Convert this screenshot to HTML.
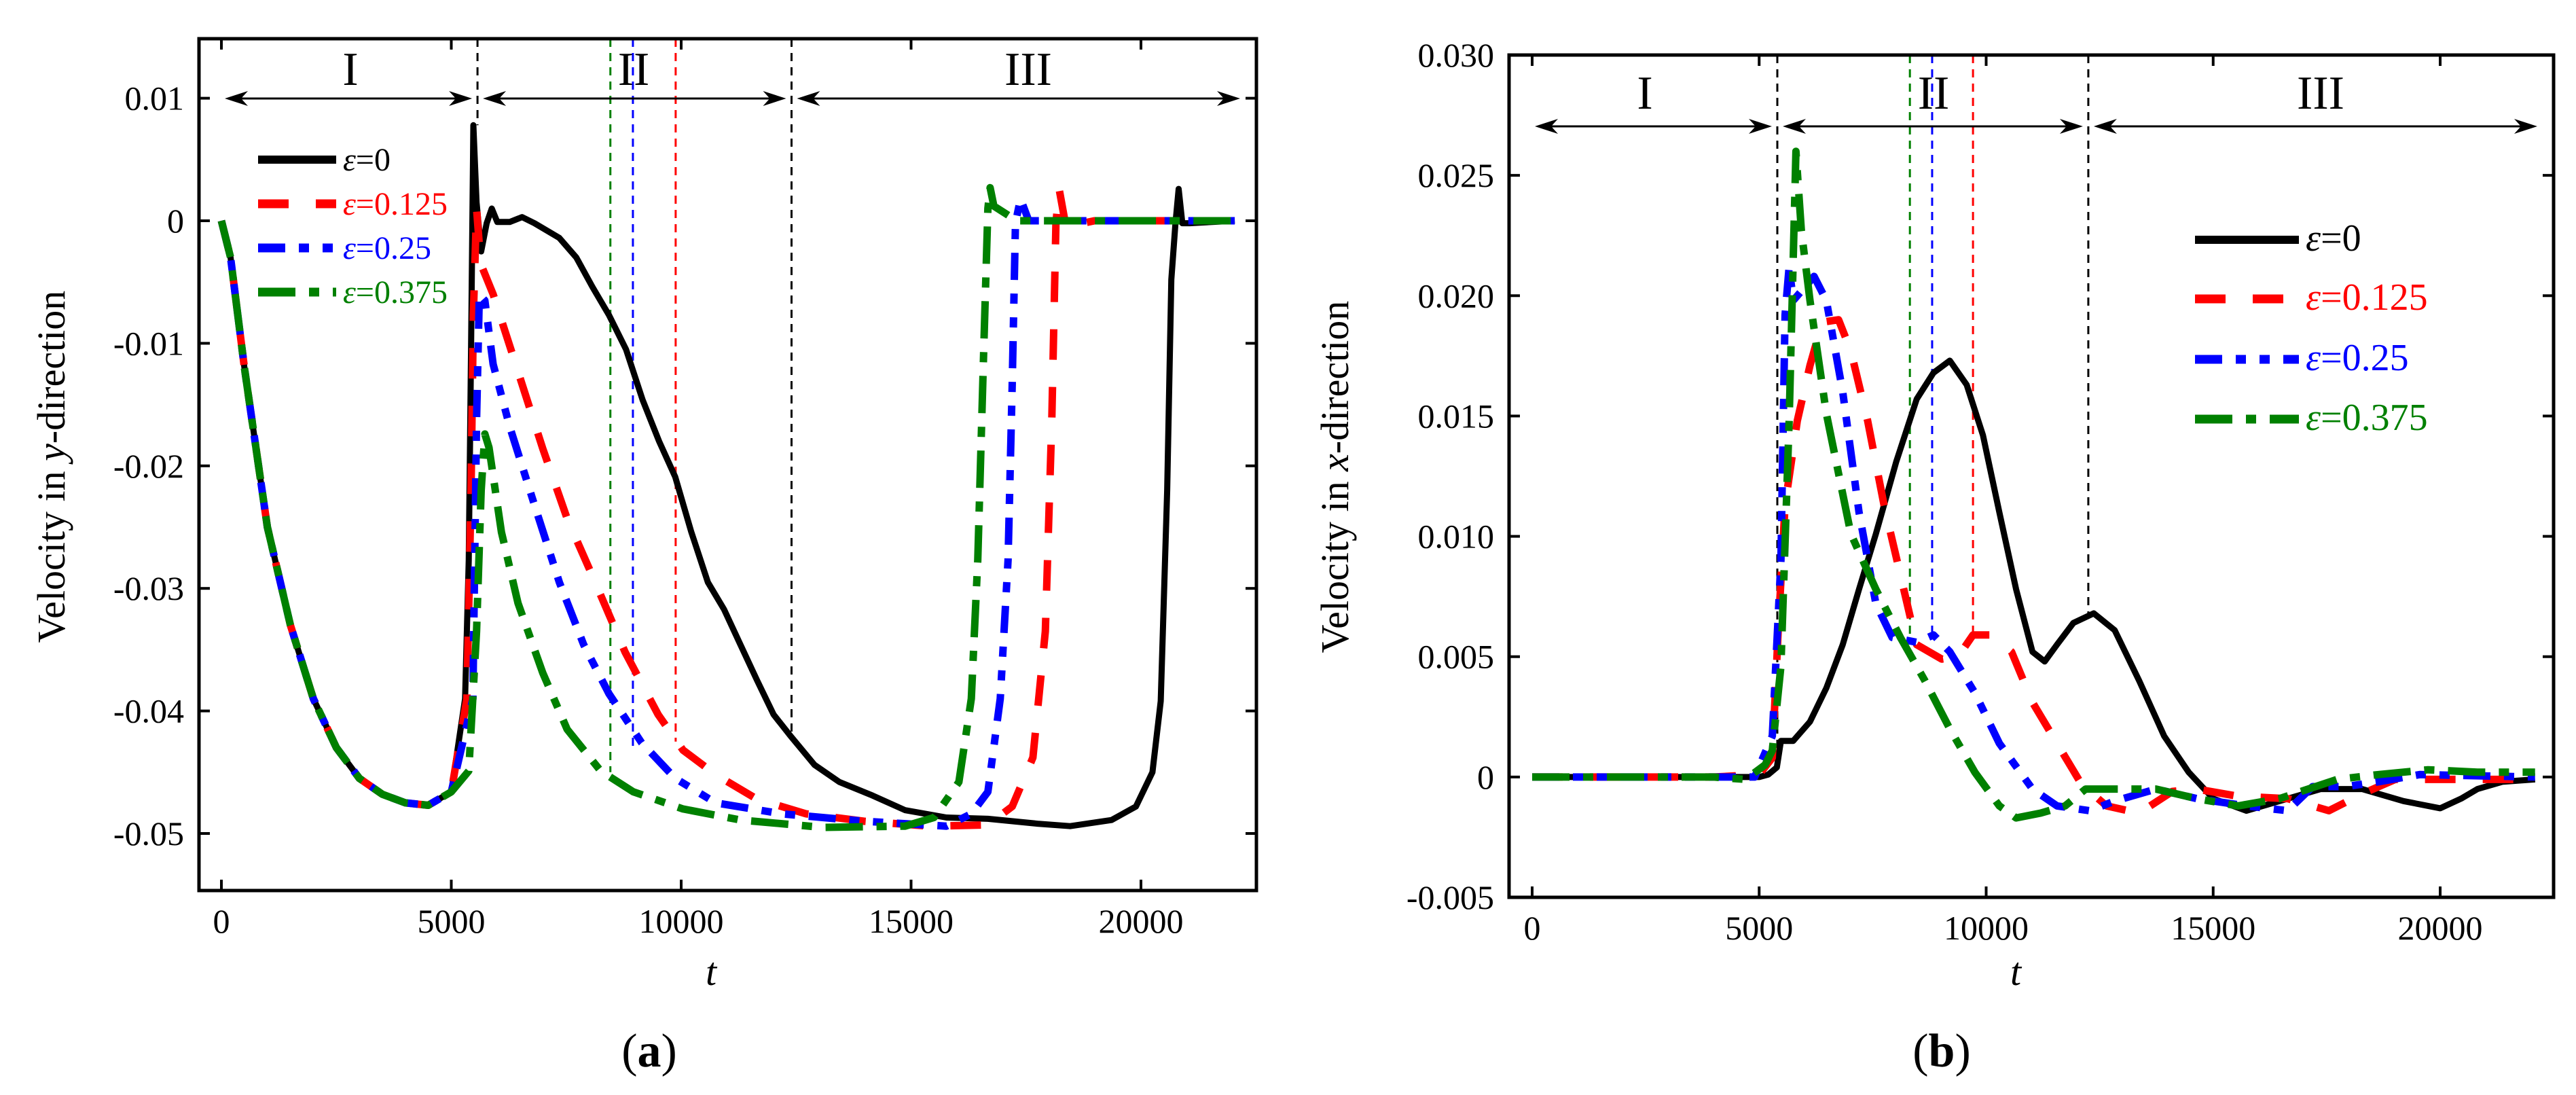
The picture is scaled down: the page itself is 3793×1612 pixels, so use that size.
<!DOCTYPE html>
<html><head><meta charset="utf-8"><style>
html,body{margin:0;padding:0;background:#fff}
svg{display:block}
text{font-family:"Liberation Serif",serif}
</style></head><body>
<svg id="fig" width="3793" height="1612" viewBox="0 0 3793 1612" xmlns="http://www.w3.org/2000/svg">
<g id="pa"></g>
<g id="pb"></g>
</svg>
<script>
// ---- Panel (a) data: t and velocity in y-direction ----
const aCommonT = [0,200,500,1000,1500,2000,2500,3000,3500,4000,4500];
const aCommonV = [0,-0.003,-0.012,-0.025,-0.033,-0.039,-0.043,-0.0455,-0.0468,-0.0475,-0.0477];
const aBlackT = [5000,5300,5380,5430,5480,5550,5650,5770,5880,6000,6270,6540,6810,7350,7720,8070,8430,8800,9160,9520,9870,10220,10580,10930,11290,11650,12010,12370,12900,13440,14160,14870,15770,16670,17750,18460,19360,19890,20250,20430,20570,20660,20750,20820,20900,21060,22040];
const aBlackV = [-0.0466,-0.039,-0.0277,-0.0105,0.0078,0.0015,-0.0025,-0.0002,0.001,-0.0001,-0.0001,0.0003,-0.0002,-0.0014,-0.003,-0.0054,-0.0077,-0.0105,-0.0146,-0.018,-0.0209,-0.0254,-0.0295,-0.0317,-0.0346,-0.0375,-0.0403,-0.042,-0.0444,-0.0458,-0.0469,-0.0481,-0.0487,-0.0488,-0.0492,-0.0494,-0.0489,-0.0478,-0.045,-0.0392,-0.022,-0.0048,-0.0002,0.0026,-0.0002,-0.0002,0];
const aRedT = [5000,5340,5430,5480,5550,5610,5660,5910,6450,6990,7520,8060,8780,9500,10040,10750,11650,12720,13980,15410,16670,17200,17650,17920,18060,18150,18220,18370,18990,22040];
const aRedV = [-0.0466,-0.039,-0.022,-0.0077,0.001,-0.002,-0.0037,-0.006,-0.0123,-0.0186,-0.0243,-0.0289,-0.0352,-0.0403,-0.0432,-0.0452,-0.0472,-0.0484,-0.049,-0.0494,-0.0493,-0.0478,-0.0438,-0.0335,-0.0163,-0.0002,0.0026,-0.0005,0,0];
const aBlueT = [5000,5470,5550,5610,5730,5910,6270,6810,7350,7880,8430,9140,9870,10750,12190,13980,15770,16310,16670,16940,17110,17200,17270,17380,17560,22040];
const aBlueV = [-0.0466,-0.039,-0.0163,-0.006,-0.0065,-0.0117,-0.0168,-0.0232,-0.0295,-0.0346,-0.0386,-0.0426,-0.0455,-0.0475,-0.0484,-0.049,-0.0494,-0.0484,-0.0466,-0.039,-0.0277,-0.0134,-0.0002,0.0018,0,0];
const aGreenT = [5000,5380,5550,5650,5730,5820,6090,6450,6990,7520,8250,8960,10040,11290,13080,14870,15500,16040,16310,16450,16580,16670,16720,16800,17300,22040];
const aGreenV = [-0.0466,-0.0449,-0.0335,-0.022,-0.0174,-0.0185,-0.0254,-0.0312,-0.0369,-0.0415,-0.0449,-0.0466,-0.048,-0.0489,-0.0495,-0.0494,-0.0487,-0.0458,-0.039,-0.0277,-0.0105,0.001,0.0027,0.0012,0,0];
const aXTicks = [0,5000,10000,15000,20000];
const aYTicks = [0.01,0,-0.01,-0.02,-0.03,-0.04,-0.05];
const aYTickLabels = ["0.01","0","-0.01","-0.02","-0.03","-0.04","-0.05"];
const aDividers = [5570,8460,8950,9880,12400];

// ---- Panel (b) data: t and velocity in x-direction ----
const bBlackT = [0,2000,4000,5000,5200,5390,5480,5750,6120,6480,6840,7200,7570,8020,8470,8840,9200,9570,9930,10290,10660,11020,11290,11560,11920,12370,12830,13370,13920,14460,15000,15730,16460,17370,18280,19190,20000,20460,20820,21370,22090];
const bBlackV = [0,0,0,0,0.0001,0.0004,0.0015,0.0015,0.0023,0.0037,0.0055,0.0078,0.0101,0.0131,0.0157,0.0168,0.0173,0.0163,0.0142,0.011,0.0078,0.0052,0.0048,0.0055,0.0064,0.0068,0.0061,0.004,0.0017,0.0002,-0.0009,-0.0014,-0.001,-0.0005,-0.0005,-0.001,-0.0013,-0.0009,-0.0005,-0.0002,-0.0001];
const bRedT = [0,2000,4000,5000,5290,5420,5570,5840,6120,6390,6750,7020,7390,7750,8110,8470,9020,9380,9710,10110,10560,11020,11560,12100,12650,13370,14100,14640,15550,16640,17550,18280,19010,20100,21910];
const bRedV = [0,0,0,0.0001,0.0008,0.0061,0.0113,0.0148,0.0171,0.0189,0.019,0.0177,0.0148,0.0113,0.0084,0.0055,0.0049,0.005,0.0059,0.0059,0.0052,0.0031,0.0014,-0.0003,-0.0012,-0.0015,-0.0006,-0.0005,-0.0008,-0.0009,-0.0014,-0.0007,-0.0001,-0.0001,-0.0001];
const bBlueT = [0,2000,4000,4900,5290,5480,5570,5660,5750,6210,6480,6840,7200,7570,7930,8470,8840,9200,9750,10290,11020,11560,12280,12830,13740,14640,15730,16640,17190,17920,18640,19550,22090];
const bBlueV = [0,0,0,0,0.0017,0.009,0.0192,0.0212,0.0198,0.0208,0.0198,0.016,0.011,0.0072,0.0058,0.0056,0.0059,0.0052,0.0035,0.0014,-0.0005,-0.0012,-0.0014,-0.001,-0.0005,-0.0009,-0.0012,-0.0014,-0.0004,-0.0004,-0.0002,0.0001,0];
const bGreenT = [0,2000,4000,4700,5130,5290,5480,5660,5810,5930,6120,6480,7020,7570,8110,8650,9200,9750,10290,10660,11200,11740,12190,12830,13740,14640,15550,16460,17730,18640,19730,20820,22090];
const bGreenV = [0,0,0,-0.0001,0.0005,0.0011,0.0046,0.0148,0.026,0.0227,0.0198,0.0151,0.0101,0.0078,0.0058,0.004,0.002,0.0002,-0.0012,-0.0017,-0.0015,-0.0012,-0.0005,-0.0005,-0.0005,-0.0009,-0.0012,-0.0009,-0.0001,0.0001,0.0003,0.0002,0.0002];
const bXTicks = [0,5000,10000,15000,20000];
const bYTicks = [0.030,0.025,0.020,0.015,0.010,0.005,0,-0.005];
const bYTickLabels = ["0.030","0.025","0.020","0.015","0.010","0.005","0","-0.005"];
const bDividers = [5400,8320,8810,9710,12250];

const NS="http://www.w3.org/2000/svg";
function mk(parent,tag,attrs,txt){const e=document.createElementNS(NS,tag);for(const k in attrs)e.setAttribute(k,attrs[k]);if(txt!==undefined)e.textContent=txt;parent.appendChild(e);return e;}

const styles = {
  black:{c:"#000",d:"none",w:9},
  red:{c:"#ff0000",d:"45 40",w:11},
  blue:{c:"#0000ff",d:"40 20 15 20 15 20",w:11},
  green:{c:"#008000",d:"55 20 15 20",w:11}
};

function panel(g,cfg){
  const X=t=>cfg.x0+(t-cfg.t0)*(cfg.x1-cfg.x0)/(cfg.t1-cfg.t0);
  const Y=v=>cfg.y0+(v-cfg.v0)*(cfg.y1-cfg.y0)/(cfg.v1-cfg.v0);
  cfg.divs.forEach((t,i)=>{
    const col=["#000","#008000","#0000ff","#ff0000","#000"][i];
    const l=mk(g,"line",{x1:X(t),x2:X(t),y1:cfg.top,y2:Y(cfg.divBottom[i]),stroke:col,"stroke-width":3,"stroke-dasharray":"12 9"});
    
    
  });
  const ay=cfg.arrowY;
  const arrows=[[cfg.left+38,X(cfg.divs[0])-8],[X(cfg.divs[0])+8,X(cfg.divs[4])-8],[X(cfg.divs[4])+8,cfg.right-24]];
  const names=["I","II","III"];
  arrows.forEach((a,i)=>{
    const ag=mk(g,"g",{});
    
    
    mk(ag,"line",{x1:a[0]+20,x2:a[1]-20,y1:ay,y2:ay,stroke:"#000","stroke-width":3});
    mk(ag,"path",{d:`M${a[0]},${ay} L${a[0]+34},${ay-11} L${a[0]+24},${ay} L${a[0]+34},${ay+11}Z`,fill:"#000"});
    mk(ag,"path",{d:`M${a[1]},${ay} L${a[1]-34},${ay-11} L${a[1]-24},${ay} L${a[1]-34},${ay+11}Z`,fill:"#000"});
    const tx=mk(g,"text",{x:cfg.romanX[i],y:cfg.romanY,"font-size":70,"text-anchor":"middle"},names[i]);
    
    
  });
  const series=[["black",cfg.blk],["red",cfg.red],["blue",cfg.blu],["green",cfg.grn]];
  series.forEach(([k,s])=>{
    const st=styles[k];
    const d=s[0].map((t,i)=>(i?"L":"M")+X(t).toFixed(1)+","+Y(s[1][i]).toFixed(1)).join(" ");
    const p=mk(g,"path",{d:d,fill:"none",stroke:st.c,"stroke-width":st.w,"stroke-dasharray":st.d,"stroke-linejoin":"round"});
    
    
  });
  const fr=mk(g,"rect",{x:cfg.left,y:cfg.top,width:cfg.right-cfg.left,height:cfg.bottom-cfg.top,fill:"none",stroke:"#000","stroke-width":5});
  
  
  cfg.xt.forEach(t=>{
    mk(g,"line",{x1:X(t),x2:X(t),y1:cfg.bottom,y2:cfg.bottom-16,stroke:"#000","stroke-width":4});
    mk(g,"line",{x1:X(t),x2:X(t),y1:cfg.top,y2:cfg.top+16,stroke:"#000","stroke-width":4});
    const tl=mk(g,"text",{x:X(t),y:cfg.bottom+62,"font-size":50,"text-anchor":"middle"},String(t));
    
    
  });
  cfg.yt.forEach((v,i)=>{
    mk(g,"line",{x1:cfg.left,x2:cfg.left+16,y1:Y(v),y2:Y(v),stroke:"#000","stroke-width":4});
    mk(g,"line",{x1:cfg.right,x2:cfg.right-16,y1:Y(v),y2:Y(v),stroke:"#000","stroke-width":4});
    const tl=mk(g,"text",{x:cfg.left-22,y:Y(v)+17,"font-size":50,"text-anchor":"end"},cfg.ytl[i]);
    
    
  });
  const xt=mk(g,"text",{x:cfg.tX,y:1450,"font-size":58,"font-style":"italic","text-anchor":"middle"},"t");
  
  
  const yt=mk(g,"text",{x:0,y:0,"font-size":58,"text-anchor":"middle",transform:`translate(${cfg.ytX},${cfg.ytY}) rotate(-90)`});
  
  
  mk(yt,"tspan",{},"Velocity in ");
  mk(yt,"tspan",{"font-style":"italic"},cfg.dir);
  mk(yt,"tspan",{},"-direction");
  const pl=mk(g,"text",{x:cfg.plX,y:1570,"font-size":70,"text-anchor":"middle"});
  
  
  mk(pl,"tspan",{},"(");
  mk(pl,"tspan",{"font-weight":"bold"},cfg.pl);
  mk(pl,"tspan",{},")");
  const labels=["0","0.125","0.25","0.375"];
  series.forEach(([k],i)=>{
    const st=styles[k];
    const y=cfg.legY[i];
    const lg=mk(g,"g",{});
    
    
    mk(lg,"line",{x1:cfg.legX0,x2:cfg.legX1,y1:y,y2:y,stroke:st.c,"stroke-width":k==="black"?12:13,"stroke-dasharray":st.d});
    const tx=mk(lg,"text",{x:cfg.legX1+10,y:y+16,"font-size":cfg.legFS,fill:st.c});
    mk(tx,"tspan",{"font-style":"italic"},"ε");
    mk(tx,"tspan",{},"="+labels[i]);
  });
}

panel(document.getElementById("pa"),{
  left:293,right:1850,top:57,bottom:1311,
  x0:326,x1:1680,t0:0,t1:20000,
  y0:325,y1:1227,v0:0,v1:-0.05,
  blk:[aCommonT.concat(aBlackT),aCommonV.concat(aBlackV)],
  red:[aCommonT.concat(aRedT),aCommonV.concat(aRedV)],
  blu:[aCommonT.concat(aBlueT),aCommonV.concat(aBlueV)],
  grn:[aCommonT.concat(aGreenT),aCommonV.concat(aGreenV)],
  xt:aXTicks,yt:aYTicks,ytl:aYTickLabels,
  divs:aDividers,divBottom:[0.0078,-0.045,-0.043,-0.0425,-0.042],
  arrowY:145,romanY:125,romanX:[516,933,1514],
  tX:1047,ytX:95,ytY:687,dir:"y",plX:956,pl:"a",
  legX0:380,legX1:495,legY:[235,300,365,430],legFS:48
});
panel(document.getElementById("pb"),{
  left:2222,right:3760,top:81,bottom:1321,
  x0:2256,x1:3593,t0:0,t1:20000,
  y0:81,y1:1321,v0:0.030,v1:-0.005,
  blk:[bBlackT,bBlackV],red:[bRedT,bRedV],blu:[bBlueT,bBlueV],grn:[bGreenT,bGreenV],
  xt:bXTicks,yt:bYTicks,ytl:bYTickLabels,
  divs:bDividers,divBottom:[0.0003,0.0057,0.0058,0.0059,0.0068],
  arrowY:186,romanY:160,romanX:[2422,2847,3417],
  tX:2968,ytX:1985,ytY:702,dir:"x",plX:2859,pl:"b",
  legX0:3232,legX1:3385,legY:[353,440,529,617],legFS:56
});
</script>
</body></html>
